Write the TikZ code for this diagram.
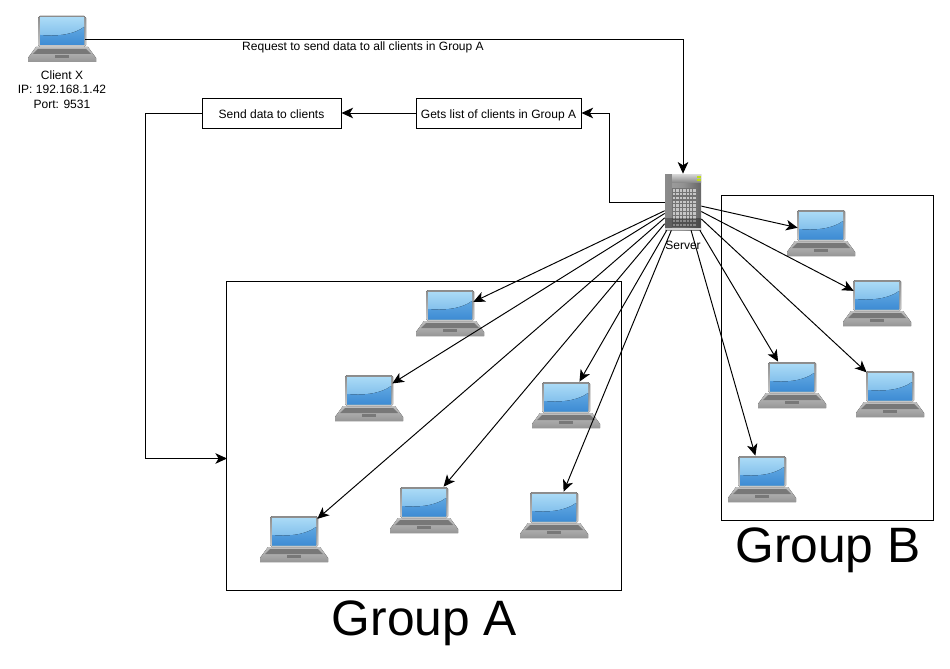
\documentclass[tikz,border=0pt]{standalone}
\usepackage{fontspec}
\setmainfont{Liberation Sans}
\usetikzlibrary{positioning, arrows.meta}
\definecolor{scrTop}{RGB}{170,218,246}
\definecolor{scrMid}{RGB}{110,178,230}
\definecolor{scrLow}{RGB}{62,140,212}
\definecolor{lapGray}{RGB}{176,176,176}
\definecolor{lapDark}{RGB}{120,120,120}
\tikzset{
  arr/.style={-{Stealth[length=6.6pt,width=6pt,inset=1.8pt]}, line width=0.55pt, black},
  lbl/.style={font=\fontsize{6.85}{8.3}\selectfont, inner sep=0pt, align=center},
  bigl/.style={font=\fontsize{28.3}{32}\selectfont, inner sep=0pt},
  stepbox/.style={draw, line width=0.55pt, minimum height=30*0.02cm, inner sep=0pt, text height=6.5pt, text depth=0.8pt, font=\fontsize{6.85}{8.3}\selectfont},
  grpbox/.style={draw, line width=0.55pt, inner sep=0pt},
  lapnode/.style={minimum width=0.92cm, minimum height=0.92cm, inner sep=0pt},
  srvnode/.style={minimum width=0.72cm, minimum height=1.12cm, inner sep=0pt},
  laptop/.pic={
    % base
    \fill[top color=lapGray!80!white, bottom color=lapGray!85!black]
      (-26,8) -- (26,8) -- (34,19) -- (34,23) -- (-34,23) -- (-34,19) -- cycle;
    \fill[lapDark] (-24,10) -- (24,10) -- (29,15) -- (-29,15) -- cycle;
    \fill[lapDark] (-7,16) rectangle (7,19);
    % screen
    \fill[rounded corners=1pt, top color=gray!90, bottom color=lapGray!70] (-24,-23) rectangle (24,8);
    \fill[top color=scrTop, bottom color=scrMid] (-22,-21) rectangle (22,6);
    \fill[top color=scrMid!70!scrLow, bottom color=scrLow]
      (-22,-4) .. controls (0,-2) and (14,-6) .. (22,-12) -- (22,6) -- (-22,6) -- cycle;
  },
  servericon/.pic={
    % body
    \fill[left color=gray!75!white, right color=gray!80!black, middle color=gray!85!white] (-18,-28) rectangle (18,28);
    \fill[gray!80!black, opacity=0.35] (-18,-28) rectangle (-11,28);
    \fill[top color=gray!30, bottom color=gray!90] (-11,-28) rectangle (18,-20);
    % grille
    \fill[gray!90!black] (-11,-14) rectangle (13,25);
    \foreach \gx in {0,...,6}
      \foreach \gy in {0,...,9}
        \fill[gray!45] ({-10+\gx*3.4},{-13+\gy*3.85}) rectangle +(2.3,2.6);
    \fill[black, opacity=0.3] (-18,16) rectangle (18,26);
    \fill[gray!35] (-18,26) -- (18,26) -- (18,28) -- (-18,28) -- cycle;
    % lights
    \fill[yellow!75!green] (14,-26) rectangle (18,-24.5);
    \fill[yellow!75!green] (14,-23) rectangle (18,-21.5);
  }
}
\begin{document}
\begin{tikzpicture}[x=0.02cm, y=-0.02cm]
  \useasboundingbox (0,0) rectangle (950,669);

  % groups
  \node[grpbox, minimum width=395*0.02cm, minimum height=309*0.02cm] (grpA) at (424,435.5) {};
  \node[grpbox, minimum width=212*0.02cm, minimum height=325*0.02cm] (grpB) at (827.5,357.5) {};
  \node[bigl] (grpAlbl) at (424.5,623) {Group A};
  \node[bigl] (grpBlbl) at (828,550) {Group B};

  % client and server
  \node[lapnode] (client) at (62,39) {};
  \pic at (client) {laptop};
  \node[lbl, below=4.4pt of client] (clientlbl) {Client X\\IP: 192.168.1.42\\Port: 9531};
  \node[srvnode] (srv) at (683,202) {};
  \pic at (srv) {servericon};
  \node[lbl] (srvlbl) at (683,245) {Server};

  % steps
  \node[stepbox, minimum width=139*0.02cm] (send) at (271.5,113) {Send data to clients};
  \node[stepbox, minimum width=165*0.02cm] (gets) at (498.5,113) {Gets list of clients in Group A};
  \node[lbl] (reqlbl) at (363,47) {Request to send data to all clients in Group A};

  % laptops
  \foreach \lname/\lx/\ly in {a1/450/313, a2/369/398, a3/566/405, a4/294/539, a5/424/510, a6/554/515,
      b1/821/233, b2/877/303, b3/792/385, b4/890/394, b5/762/479} {
    \node[lapnode] (\lname) at (\lx,\ly) {};
    \pic at (\lname) {laptop};
    \draw[arr] (srv) -- (\lname);
  }

  % connectors
  \coordinate (srvbend) at (609.5,202);
  \coordinate (sendbend) at (145.5,113);
  \coordinate (grpin) at (227,458.5);
  \draw[arr] (client.east) -| (srv.north);
  \draw[arr] (srv.west) -- (srvbend) |- (gets.east);
  \draw[arr] (gets.west) -- (send.east);
  \draw[arr] (send.west) -- (sendbend) |- (grpin);
\end{tikzpicture}
\end{document}
